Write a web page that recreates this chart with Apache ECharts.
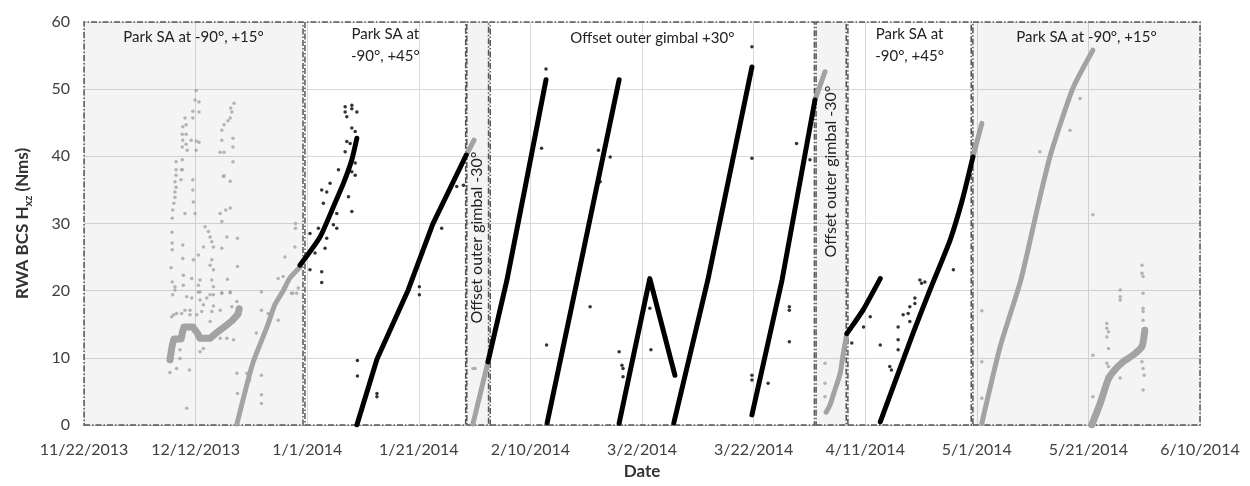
<!DOCTYPE html>
<html>
<head>
<meta charset="utf-8">
<title>RWA BCS Hxz</title>
<script src="https://cdn.jsdelivr.net/npm/echarts@6/dist/echarts.min.js"></script>
<style>
  html, body { margin: 0; padding: 0; background: #fff; }
  #chart { width: 1250px; height: 486px; }
</style>
</head>
<body>
<div id="chart"></div>
<script>
// x values are Excel date serials (41600 = 11/22/2013), y in Nms

// x axis ticks, every 20 days from 11/22/2013 to 6/10/2014
const xTickStart = 41600;
const xTickEnd = 41800;
const xTickStep = 20;

// operating phases shaded behind the data
const regionStart = [41600, 41639.6, 41668.6, 41672.8, 41731.2, 41736.9, 41759.3];
const regionEnd = [41639.25, 41668.4, 41672.5, 41730.9, 41736.6, 41759.0, 41800];
const regionShaded = [true, false, true, false, true, false, true];
const regionLabels = [
  'Park SA at -90°, +15°',
  'Park SA at\n-90°, +45°',
  'Offset outer gimbal -30°',
  'Offset outer gimbal +30°',
  'Offset outer gimbal -30°',
  'Park SA at\n-90°, +45°',
  'Park SA at -90°, +15°'
];

// dense gray runs (read along the middle of the point cloud)
const grayA1 = [[41615.4, 9.7], [41615.8, 11.8], [41616.1, 12.8], [41617.4, 12.8], [41617.7, 14.0], [41617.9, 14.6], [41619.5, 14.6], [41620.3, 13.7], [41620.8, 12.9], [41622.6, 12.9], [41623.7, 13.7], [41625.3, 14.7], [41626.5, 15.5], [41627.6, 16.5], [41627.8, 17.3]];
const grayA2 = [[41627.4, 0.15], [41629.4, 6.7], [41630.5, 9.8], [41632.8, 14.6], [41634.2, 17.9], [41635.7, 20.0], [41636.9, 21.9], [41638.7, 23.5]];
const grayC1 = [[41668.5, 40.2], [41669.9, 42.4]];
const grayC2 = [[41669.7, 0.15], [41672.4, 9.4]];
const grayE1 = [[41731.0, 48.4], [41732.8, 52.6]];
const grayE2 = [[41733.0, 1.9], [41733.7, 3.0], [41734.4, 4.8], [41735.5, 7.6], [41736.0, 10.3], [41736.6, 13.1]];
const grayG1 = [[41759.3, 39.9], [41760.9, 44.9]];
const grayG2 = [[41760.9, 0.25], [41764.2, 11.7], [41767.9, 21.6], [41771.2, 33.5], [41773.2, 40.2], [41777.2, 50.1], [41780.8, 55.8]];
const grayG3 = [[41780.6, 0], [41782.1, 3.2], [41783.5, 6.7], [41784.4, 7.9], [41786.2, 9.4], [41788.0, 10.4], [41789.6, 11.7], [41790.1, 14.1]];

// dense black runs
const blackB1 = [[41638.7, 23.8], [41642.3, 28.0], [41644.7, 32.5], [41646.5, 36.0], [41648.0, 39.5], [41648.9, 42.7]];
const blackB2 = [[41648.9, 0], [41652.5, 9.8], [41658.1, 20.1], [41662.5, 29.9], [41668.5, 40.2]];
const blackD1 = [[41672.4, 9.4], [41675.8, 21.6], [41679.2, 36.0], [41682.8, 51.4]];
const blackD2 = [[41683.0, 0.3], [41688.4, 21.6], [41695.9, 51.4]];
const blackD3 = [[41695.9, 0.25], [41701.4, 21.8], [41705.9, 7.4]];
const blackD4 = [[41705.7, 0.3], [41711.8, 21.6], [41719.7, 53.3]];
const blackD5 = [[41719.7, 1.5], [41725.1, 21.6], [41731.0, 48.4]];
const blackF1 = [[41736.7, 13.6], [41737.8, 14.9], [41739.6, 17.1], [41742.7, 21.8]];
const blackF2 = [[41742.7, 0.45], [41748.6, 13.7], [41751.6, 20.1], [41755.2, 27.5], [41757.4, 33.5], [41759.3, 39.9]];

// scattered single samples
const grayPoints = [
  [41620.1, 49.8], [41619.9, 48.4], [41620.6, 48.1], [41619.5, 46.7], [41620.6, 46.6], [41619.5, 45.7], [41618.1, 45.7], [41617.7, 44.4], [41618.3, 44.7], [41617.6, 43.3], [41618.3, 43.3], [41617.7, 42.4], [41618.3, 41.8], [41618.5, 40.9], [41619.2, 42.4], [41620.1, 42.3], [41620.6, 42.1], [41620.1, 40.9], [41617.6, 41.4], [41617.6, 39.5], [41616.5, 39.2], [41616.5, 38.0], [41617.6, 38.0], [41617.4, 36.5], [41619.5, 36.5], [41616.3, 36.2], [41616.3, 34.7], [41619.5, 35.0],
  [41624.7, 42.4], [41625.1, 40.6], [41624.4, 40.6], [41624.7, 43.9], [41625.1, 44.7], [41625.8, 45.3], [41626.2, 45.7], [41626.5, 46.6], [41626.9, 47.9], [41626.3, 47.2], [41626.7, 42.7], [41626.7, 41.4], [41626.7, 39.2], [41625.1, 37.1], [41626.2, 36.3],
  [41616.5, 37.2], [41616.5, 35.4], [41616.3, 33.9], [41616.1, 33.0], [41615.9, 32.0], [41615.8, 30.8], [41615.8, 28.7], [41615.8, 27.1], [41615.8, 26.1], [41615.6, 23.4], [41615.8, 21.3], [41615.9, 19.4], [41616.1, 16.4], [41617.5, 38.0], [41619.6, 33.2], [41618.1, 31.5], [41619.9, 31.5], [41625.0, 37.0], [41624.4, 31.5], [41625.4, 32.0], [41626.2, 32.3], [41624.7, 30.3], [41621.7, 29.5], [41622.3, 28.8], [41622.6, 28.0], [41622.9, 27.3], [41625.6, 28.0], [41627.5, 27.8], [41621.4, 26.5], [41623.2, 26.5], [41624.7, 26.3], [41617.7, 26.8], [41620.5, 25.3], [41617.7, 24.8], [41619.6, 24.6], [41622.9, 24.6], [41627.5, 23.6], [41622.6, 23.8], [41623.2, 23.1], [41617.8, 22.3], [41619.3, 21.8], [41620.8, 21.6], [41622.9, 21.6], [41625.7, 21.7], [41617.8, 20.8], [41620.5, 20.8], [41623.2, 20.6], [41616.3, 20.1], [41620.5, 19.8], [41624.7, 19.7], [41626.2, 19.7], [41622.6, 19.4], [41618.4, 19.1], [41620.8, 18.6], [41627.4, 18.4], [41621.4, 17.9], [41623.2, 17.7], [41626.5, 17.6], [41617.5, 16.6], [41619.0, 16.4], [41622.9, 16.9], [41624.4, 17.1], [41631.8, 19.8], [41631.8, 17.1], [41633.0, 16.6], [41634.8, 21.8], [41635.7, 22.1], [41636.0, 25.0], [41637.9, 30.0], [41637.9, 29.3], [41637.8, 26.5], [41638.1, 19.6], [41637.4, 19.6],
  [41615.4, 7.8], [41616.6, 8.4], [41617.2, 9.9], [41618.4, 2.5], [41618.9, 8.2], [41617.2, 11.2], [41620.8, 10.9], [41621.4, 11.4], [41623.2, 13.1], [41624.4, 12.9], [41625.6, 12.9], [41626.8, 12.7], [41627.4, 7.7], [41627.5, 4.7], [41629.2, 7.7], [41629.7, 6.7], [41631.8, 7.4], [41631.8, 4.5], [41631.8, 3.2], [41630.9, 13.7], [41633.3, 15.6], [41634.8, 15.6], [41637.2, 19.6], [41638.4, 20.4], [41615.7, 16.1], [41618.1, 17.1], [41619.0, 17.1], [41620.2, 16.4], [41621.1, 16.9], [41622.6, 15.4], [41616.6, 16.6], [41616.3, 20.6], [41620.8, 19.8], [41623.2, 19.4], [41624.7, 19.6], [41626.2, 19.8], [41619.3, 18.9], [41622.0, 18.9],
  [41669.7, 8.4], [41670.1, 8.4], [41732.8, 9.2], [41732.8, 6.2], [41732.8, 4.2],
  [41789.6, 23.8], [41789.6, 22.6], [41789.8, 22.1], [41785.7, 20.1], [41785.7, 19.1], [41785.7, 18.6], [41789.8, 19.6], [41789.8, 17.4], [41789.8, 16.9], [41789.8, 15.6], [41783.3, 15.1], [41783.3, 14.4], [41783.6, 13.9], [41783.3, 13.1], [41783.6, 11.4], [41780.8, 10.4], [41783.3, 9.2], [41783.6, 8.7], [41783.3, 7.2], [41789.6, 9.4], [41789.8, 8.4], [41790.0, 7.4], [41789.8, 5.2], [41780.8, 4.2], [41785.7, 7.0], [41760.9, 17.0], [41760.9, 9.4], [41760.9, 4.0], [41771.3, 40.7], [41776.7, 43.9], [41778.5, 48.6], [41780.8, 31.3]
];
const blackPoints = [
  [41646.8, 47.4], [41646.8, 46.6], [41648.0, 47.6], [41648.0, 47.1], [41648.9, 46.6], [41647.1, 45.9], [41648.0, 44.2], [41648.6, 43.7], [41647.1, 42.2], [41647.7, 41.9], [41646.8, 40.7], [41648.6, 39.0], [41648.0, 37.7], [41648.6, 37.2], [41645.6, 38.0], [41644.1, 36.0], [41642.6, 35.0], [41643.5, 34.7], [41647.4, 34.0], [41648.0, 31.8], [41642.9, 33.0], [41645.3, 31.5], [41644.7, 29.8], [41645.3, 29.3], [41642.0, 29.3], [41640.5, 28.5], [41643.5, 27.8], [41643.2, 26.3], [41641.4, 25.6], [41640.5, 23.1], [41642.6, 22.8], [41642.6, 21.2], [41649.0, 9.6], [41649.0, 7.3], [41652.5, 4.7], [41652.5, 4.2], [41660.1, 20.6], [41660.1, 19.4], [41666.0, -0.2], [41664.1, 29.3], [41666.8, 35.5], [41668.0, 35.7],
  [41682.9, 11.9], [41690.7, 17.6], [41719.7, 56.3], [41719.7, 39.7], [41727.7, 41.9], [41730.1, 39.5], [41694.3, 39.9], [41692.5, 36.2], [41682.8, 53.0], [41682.0, 41.2], [41692.2, 40.9], [41695.9, 10.9], [41696.4, 8.9], [41696.6, 8.4], [41696.6, 7.2], [41701.4, 17.4], [41701.6, 11.2], [41719.7, 7.4], [41719.7, 6.7], [41722.6, 6.2], [41726.4, 17.6], [41726.4, 17.1], [41726.4, 12.4], [41712.8, -0.25], [41713.4, -0.25], [41745.0, -0.25],
  [41742.7, 11.9], [41745.9, 14.6], [41745.9, 12.7], [41745.9, 11.2], [41746.8, 16.4], [41747.7, 16.6], [41748.0, 15.4], [41748.0, 17.6], [41748.9, 18.9], [41748.9, 18.1], [41749.8, 21.6], [41750.1, 21.1], [41750.7, 21.3], [41744.4, 8.7], [41744.7, 8.2], [41755.8, 23.1], [41740.9, 16.1], [41737.6, 12.2], [41739.7, 14.6]
];

const GRAY = '#a3a3a3';
const BLACK = '#000000';
const FONT = 'Lato, "Noto Sans", sans-serif';

function serialToDate(v) {
  const d = new Date(Date.UTC(1899, 11, 30) + Math.round(v) * 86400000);
  return (d.getUTCMonth() + 1) + '/' + d.getUTCDate() + '/' + d.getUTCFullYear();
}

function run(data, color, width, smooth) {
  return {
    type: 'line',
    data: data,
    symbol: 'none',
    silent: true,
    smooth: smooth ? 0.2 : false,
    z: color === BLACK ? 4 : 3,
    lineStyle: { color: color, width: width, cap: 'round', join: 'round' }
  };
}

// label placement for each phase box (offsets of rotated labels are in the rotated frame)
const labelStyles = [
  { position: 'insideTop', distance: 8 },
  { position: 'insideTop', distance: 2, lineHeight: 22 },
  { position: 'inside', rotate: 90, fontSize: 16, offset: [-14, -1] },
  { position: 'insideTop', distance: 9 },
  { position: 'inside', rotate: 90, fontSize: 16, offset: [52, 0] },
  { position: 'insideTop', distance: 2, lineHeight: 22 },
  { position: 'insideTop', distance: 8 }
];

const areaData = regionStart.map(function (s, i) {
  return [
    {
      xAxis: s,
      itemStyle: {
        color: regionShaded[i] ? 'rgba(0,0,0,0.045)' : 'rgba(255,255,255,0)',
        borderColor: '#555',
        borderWidth: 1.5,
        borderType: [6, 2, 1.5, 2]
      },
      label: Object.assign({
        show: true,
        formatter: regionLabels[i],
        color: '#222',
        fontSize: 15,
        fontFamily: FONT
      }, labelStyles[i])
    },
    { xAxis: regionEnd[i] }
  ];
});

const series = [
  {
    type: 'scatter',
    data: [],
    silent: true,
    z: 1,
    markArea: { silent: true, data: areaData }
  },
  run(grayA1, GRAY, 7, false),
  run(grayA2, GRAY, 5, true),
  run(grayC1, GRAY, 5, false),
  run(grayC2, GRAY, 5, false),
  run(grayE1, GRAY, 5, false),
  run(grayE2, GRAY, 5, true),
  run(grayG1, GRAY, 5, false),
  run(grayG2, GRAY, 5, true),
  run(grayG3, GRAY, 7, true),
  run(blackB1, BLACK, 5, true),
  run(blackB2, BLACK, 5, false),
  run(blackD1, BLACK, 5, false),
  run(blackD2, BLACK, 5, false),
  run(blackD3, BLACK, 5, false),
  run(blackD4, BLACK, 5, false),
  run(blackD5, BLACK, 5, false),
  run(blackF1, BLACK, 5, true),
  run(blackF2, BLACK, 5, true),
  {
    type: 'scatter', data: grayPoints, symbolSize: 3.5, silent: true, z: 3,
    itemStyle: { color: GRAY }
  },
  {
    type: 'scatter', data: blackPoints, symbolSize: 3.5, silent: true, z: 4,
    itemStyle: { color: BLACK }
  }
];

const chart = echarts.init(document.getElementById('chart'), null, { renderer: 'canvas' });
chart.setOption({
  animation: false,
  backgroundColor: '#fff',
  grid: { left: 84, right: 50, top: 22, bottom: 61, containLabel: false },
  xAxis: {
    type: 'value',
    min: xTickStart,
    max: xTickEnd,
    interval: xTickStep,
    name: 'Date',
    nameLocation: 'middle',
    nameGap: 37,
    nameTextStyle: { fontFamily: FONT, fontSize: 17, fontWeight: 'bold', color: '#333' },
    axisLine: { show: true, lineStyle: { color: '#bfbfbf' } },
    axisTick: { show: false },
    axisLabel: {
      formatter: serialToDate,
      fontFamily: FONT, fontSize: 16, color: '#404040', margin: 17
    },
    splitLine: { show: true, lineStyle: { color: '#d9d9d9', width: 1 } }
  },
  yAxis: {
    type: 'value',
    min: 0,
    max: 60,
    interval: 10,
    name: '{b|RWA BCS H}{s|xz}{b| (Nms)}',
    nameLocation: 'middle',
    nameRotate: 90,
    nameGap: 50,
    nameTextStyle: {
      rich: {
        b: { fontFamily: FONT, fontSize: 17, fontWeight: 'bold', color: '#333', lineHeight: 22 },
        s: { fontFamily: FONT, fontSize: 11, fontWeight: 'bold', color: '#333', lineHeight: 22, verticalAlign: 'bottom' }
      }
    },
    axisLine: { show: false },
    axisTick: { show: false },
    axisLabel: { fontFamily: FONT, fontSize: 16, color: '#404040', margin: 14 },
    splitLine: { show: true, lineStyle: { color: '#d9d9d9', width: 1 } }
  },
  series: series
});
</script>
</body>
</html>
